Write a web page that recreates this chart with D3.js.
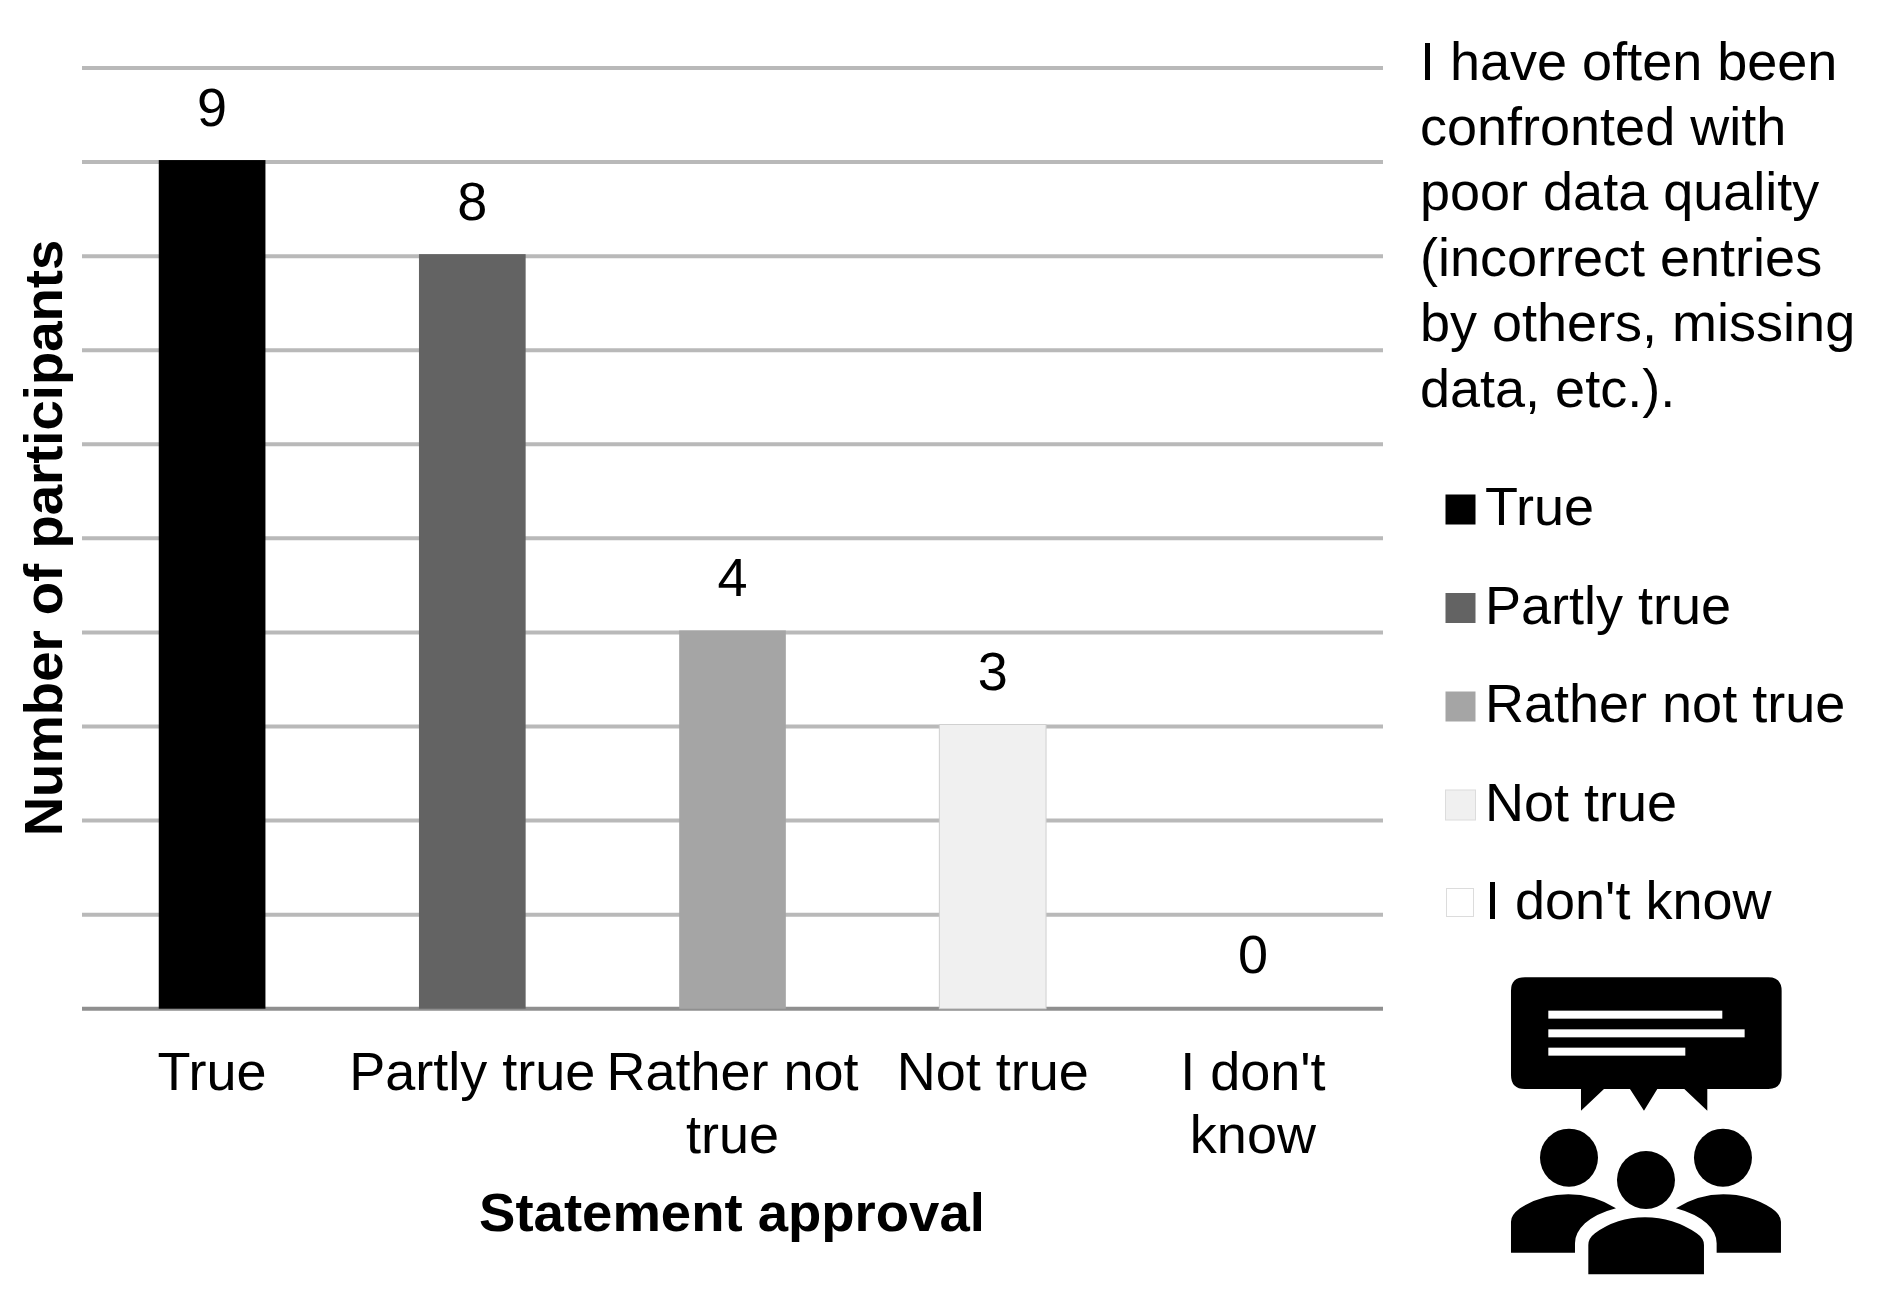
<!DOCTYPE html>
<html>
<head>
<meta charset="utf-8">
<script src="https://d3js.org/d3.v7.min.js"></script>
<style>
  body { margin: 0; background: #fff; }
  text { font-family: "Liberation Sans", Arial, sans-serif; fill: #000; }
</style>
</head>
<body>
<div id="my_dataviz"></div>
<script>

// chart data
var categories = ["True", "Partly true", "Rather not true", "Not true", "I don't know"];
var values = [9, 8, 4, 3, 0];
var colors = ["#000000", "#636363", "#a5a5a5", "#f0f0f0", "#ffffff"];
var tickLabels = [["True"], ["Partly true"], ["Rather not", "true"], ["Not true"], ["I don't", "know"]];
var gridValues = [0, 1, 2, 3, 4, 5, 6, 7, 8, 9, 10];
var titleLines = [
  "I have often been",
  "confronted with",
  "poor data quality",
  "(incorrect entries",
  "by others, missing",
  "data, etc.)."
];

var width = 1877, height = 1295, fontSize = 54, barLift = 2;

var svg = d3.select("#my_dataviz")
  .append("svg")
    .attr("width", width)
    .attr("height", height)
    .style("display", "block");

var x = d3.scaleBand()
  .domain(categories)
  .range([82, 1383])
  .paddingInner(0.59)
  .paddingOuter(0.295);

var y = d3.scaleLinear()
  .domain([0, 10])
  .range([1008.7, 68]);

// gridlines come from the y axis, its labels are not shown in the chart
var yAxis = svg.append("g")
  .attr("transform", "translate(82,0)")
  .call(d3.axisLeft(y).tickValues(gridValues).tickSize(-(1383 - 82)).tickFormat("").offset(0));
yAxis.select(".domain").remove();
yAxis.selectAll(".tick line")
  .attr("stroke", function (d) { return d === 0 ? "#8f8f8f" : "#b9b9b9"; })
  .attr("stroke-width", 4);

// bars, their tops sit a little above the gridline in the original
svg.append("g")
  .selectAll("rect")
  .data(categories)
  .enter()
  .append("rect")
    .attr("x", function (d) { return x(d); })
    .attr("y", function (d, i) { return values[i] > 0 ? y(values[i]) - barLift : y(0); })
    .attr("width", x.bandwidth())
    .attr("height", function (d, i) { return values[i] > 0 ? y(0) - y(values[i]) + barLift : 0; })
    .attr("fill", function (d, i) { return colors[i]; })
    .attr("stroke", function (d, i) { return values[i] > 0 && i === 3 ? "#d0d0d0" : "none"; })
    .attr("stroke-width", 1);

// value labels
svg.append("g")
  .selectAll("text")
  .data(categories)
  .enter()
  .append("text")
    .attr("x", function (d) { return x(d) + x.bandwidth() / 2; })
    .attr("y", function (d, i) { return y(values[i]) - 36; })
    .attr("text-anchor", "middle")
    .attr("font-size", fontSize)
    .text(function (d, i) { return values[i]; });

// x axis, labels wrapped on two lines where needed
var xAxis = svg.append("g")
  .attr("transform", "translate(0,1009)")
  .call(d3.axisBottom(x).tickSize(0).tickFormat("").offset(0));
xAxis.select(".domain").remove();
xAxis.selectAll(".tick text").remove();
xAxis.selectAll(".tick").each(function (d, i) {
  d3.select(this).selectAll("text.label")
    .data(tickLabels[i])
    .enter()
    .append("text")
      .attr("class", "label")
      .attr("text-anchor", "middle")
      .attr("font-size", fontSize)
      .attr("y", function (l, j) { return 81 + j * 63; })
      .text(function (l) { return l; });
});

// axis titles
svg.append("text")
  .attr("x", 732)
  .attr("y", 1231)
  .attr("text-anchor", "middle")
  .attr("font-size", 54.5)
  .attr("font-weight", "bold")
  .text("Statement approval");

svg.append("text")
  .attr("transform", "translate(62,538) rotate(-90)")
  .attr("text-anchor", "middle")
  .attr("font-size", 54.5)
  .attr("font-weight", "bold")
  .text("Number of participants");

// statement on the right
svg.append("g")
  .selectAll("text")
  .data(titleLines)
  .enter()
  .append("text")
    .attr("x", 1420)
    .attr("y", function (d, i) { return 79.5 + i * 65.4; })
    .attr("font-size", fontSize)
    .text(function (d) { return d; });

// legend
var legend = svg.append("g")
  .selectAll("g")
  .data(categories)
  .enter()
  .append("g")
    .attr("transform", function (d, i) { return "translate(0," + (494 + i * 98.5) + ")"; });

legend.append("rect")
  .attr("x", function (d, i) { return i === 4 ? 1446.5 : 1445.5; })
  .attr("y", 0.5)
  .attr("width", function (d, i) { return i === 4 ? 27 : 30; })
  .attr("height", function (d, i) { return i === 4 ? 28 : 30; })
  .attr("fill", function (d, i) { return colors[i]; })
  .attr("stroke", function (d, i) { return i > 2 ? "#dcdcdc" : "none"; });

legend.append("text")
  .attr("x", 1485)
  .attr("y", 31)
  .attr("font-size", fontSize)
  .text(function (d) { return d; });

// people with speech bubble icon
var icon = svg.append("g")
  .attr("transform", "translate(1420,950) scale(0.3333)");

icon.append("path")
  .attr("d", "M315,82 H1045 Q1085,82 1085,122 V375 Q1085,417 1045,417 H862 V482 L793,417 H712 L672,482 L630,417 H552 L483,482 V417 H315 Q273,417 273,375 V122 Q273,82 315,82 Z");

icon.selectAll("rect")
  .data([[182, 522], [238, 589], [293, 411]])
  .enter()
  .append("rect")
    .attr("x", 385)
    .attr("y", function (d) { return d[0]; })
    .attr("width", function (d) { return d[1]; })
    .attr("height", 24)
    .attr("fill", "#fff");

icon.selectAll("circle")
  .data([[447, 623], [909, 623], [678, 690]])
  .enter()
  .append("circle")
    .attr("cx", function (d) { return d[0]; })
    .attr("cy", function (d) { return d[1]; })
    .attr("r", 87);

icon.append("path")
  .attr("d", "M505,973 V885 Q505,865 525,850 Q590,802 675,802 Q760,802 830,850 Q852,865 852,885 V973 Z");
icon.append("path")
  .attr("d", "M273,908 V815 Q273,795 300,775 Q365,733 445,733 Q520,733 588,775 Q530,790 495,820 Q465,848 465,880 V908 Z");
icon.append("path")
  .attr("d", "M1083,908 V815 Q1083,795 1055,775 Q990,733 910,733 Q835,733 768,775 Q825,790 860,820 Q890,848 890,880 V908 Z");

</script>
</body>
</html>
